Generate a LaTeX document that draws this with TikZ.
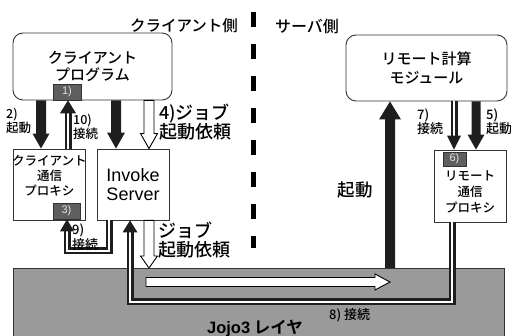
\documentclass[tikz,border=0pt]{standalone}
\usepackage{fontspec}
\setmainfont{Noto Sans CJK JP}[UprightFont=* Medium, BoldFont=* Bold]
\newfontfamily\lat{Liberation Sans}
\usetikzlibrary{calc}
\definecolor{jgray}{HTML}{9A9A9A}
\definecolor{dgray}{HTML}{5E5E5E}
\definecolor{ablk}{HTML}{1E1E1E}
\newcommand\fsz[2]{\fontsize{#1}{#2}\selectfont}
% vertical block arrow: style, from, to, shaft half width, head half width, head length
\newcommand\varrow[6]{\path[#1] let \p1=(#2), \p2=(#3), \n1={2*(\y2>\y1)-1} in
  ({\x2-#4},\y1) -- ({\x2-#4},{\y2-(\n1)*#6}) -- ({\x2-#5},{\y2-(\n1)*#6}) -- (\x2,\y2)
  -- ({\x2+#5},{\y2-(\n1)*#6}) -- ({\x2+#4},{\y2-(\n1)*#6}) -- ({\x2+#4},\y1) -- cycle;}
% filled head for double-line connectors: from (on shaft), tip, head half width, head length
\newcommand\dhead[4]{\fill[ablk] let \p1=(#1), \p2=(#2), \n1={2*(\y2>\y1)-1} in
  ({\x2-#3},{\y2-(\n1)*#4}) -- (\x2,\y2) -- ({\x2+#3},{\y2-(\n1)*#4}) -- cycle;}
\newcommand\dblline[1]{\draw[dblo] #1; \draw[dbli] #1;}
\begin{document}
\begin{tikzpicture}[x=1pt,y=-1pt,
  box/.style={draw=black!80, line width=0.9pt, fill=white, inner sep=0pt},
  rbox/.style={box, rounded corners=10pt},
  numbox/.style={draw=black!80, line width=0.6pt, fill=dgray, text=white!90!black, inner sep=0pt, font=\lat\fsz{11}{12}},
  txt/.style={inner sep=0pt, align=center},
  lbl/.style={inner sep=0pt, align=left, anchor=west},
  blkarrow/.style={fill=ablk},
  hollow/.style={fill=white, draw=black, line width=0.9pt, line join=miter},
  dblo/.style={draw=ablk, line width=7pt, line join=miter},
  dbli/.style={draw=white, line width=2.5pt, line join=miter},
  dashline/.style={draw=black, line width=5pt, dash pattern=on 15pt off 17pt},
]
\useasboundingbox (0,0) rectangle (511,336);

% Jojo3 layer
\node[draw=black!80, line width=0.8pt, fill=jgray, minimum width=491pt, minimum height=80pt, inner sep=0pt, anchor=north west] (jojo) at (13,268) {};
\node[txt, font=\fsz{16.5}{18}\bfseries] (jojot) at (255,328) {{\lat Jojo3} レイヤ};

% side headings and divider
\node[txt, font=\fsz{15.5}{17}] (cside) at (184,26) {クライアント側};
\node[txt, font=\fsz{16}{17}] (sside) at (307,26) {サーバ側};
\draw[dashline] (253,12) -- (253,248);

% boxes
\node[rbox, minimum width=159pt, minimum height=67pt, font=\fsz{15}{17}, align=center] (cprog) at (92.5,66.5) {クライアント\\プログラム};
\node[rbox, minimum width=161pt, minimum height=66pt, font=\fsz{15}{19}, align=center] (rmod) at (426.5,68) {リモート計算\\モジュール};
\node[box, minimum width=72pt, minimum height=71pt] (cproxy) at (49,184.5) {};
\node[txt, font=\fsz{12.5}{15}] (cproxyt) at (49.5,176) {クライアント\\通信\\プロキシ};
\node[box, minimum width=72pt, minimum height=71pt, font=\lat\fsz{18}{19.5}, align=center] (invoke) at (133,184.5) {Invoke\\Server};
\node[box, minimum width=72pt, minimum height=72pt] (rproxy) at (470,186) {};
\node[txt, font=\fsz{12.5}{16}] (rproxyt) at (470,192) {リモート\\通信\\プロキシ};

\node[numbox, minimum width=28pt, minimum height=16pt] (one) at (67,92) {1)};
\node[numbox, minimum width=27pt, minimum height=16pt] (three) at (66.5,211) {3)};
\node[numbox, minimum width=23pt, minimum height=14pt] (six) at (454.5,159) {6)};

% thick black arrows
\varrow{blkarrow}{41,0 |- cprog.south}{41,0 |- cproxy.north}{5pt}{8.5pt}{15pt}
\varrow{blkarrow}{116,0 |- cprog.south}{116,0 |- invoke.north}{5pt}{9pt}{16pt}
\varrow{blkarrow}{476,0 |- rmod.south}{476,0 |- rproxy.north}{4.5pt}{8.5pt}{15pt}
\varrow{blkarrow}{390,0 |- jojo.north}{390,0 |- rmod.south}{5pt}{11pt}{18pt}

% hollow arrows (job request)
\varrow{hollow}{149,0 |- cprog.south}{149,0 |- invoke.north}{5pt}{8.5pt}{15pt}
\varrow{hollow}{149,0 |- invoke.south}{149,0 |- jojo.north}{5pt}{8.5pt}{12pt}
\path[hollow] (146,277.5) -- (375,277.5) -- (375,274) -- (390,282) -- (375,290) -- (375,286.5) -- (146,286.5) -- cycle;

% double-line connectors
\dblline{(68,0 |- cproxy.north) -- ($(68,0 |- one.south)+(0,13)$)}
\dhead{68,0 |- cproxy.north}{68,0 |- one.south}{8pt}{13pt}
\dblline{(454,0 |- rmod.south) -- ($(454,0 |- rproxy.north)+(0,-14)$)}
\dhead{454,0 |- rmod.south}{454,0 |- rproxy.north}{7pt}{14pt}
\dblline{(109,0 |- invoke.south) -- (109,251) -- (67,251) -- ($(67,0 |- three.south)+(0,12)$)}
\dhead{67,251}{67,0 |- three.south}{7pt}{12pt}
\dblline{(452,0 |- rproxy.south) -- (452,302) -- (130,302) -- ($(130,0 |- invoke.south)+(0,12)$)}
\dhead{130,302}{130,0 |- invoke.south}{7.5pt}{12pt}

% labels
\node[lbl, font=\fsz{12.5}{13.5}] (l2) at (6,121) {2)\\起動};
\node[lbl, font=\fsz{12.5}{13.5}] (l10) at (73,127) {10)\\接続};
\node[lbl, font=\fsz{18}{16}] (l4) at (159,122) {4)ジョブ\\起動依頼};
\node[lbl, font=\fsz{18}{19}] (lj) at (158,240) {ジョブ\\起動依頼};
\node[lbl, font=\fsz{13}{14}] (l7) at (417,122) {7)\\接続};
\node[lbl, font=\fsz{13}{14}] (l5) at (486,122) {5)\\起動};
\node[lbl, font=\fsz{13}{13}] (l9) at (72,237) {9)\\接続};
\node[lbl, font=\fsz{13}{14}] (l8) at (329,315) {8) 接続};
\node[txt, font=\fsz{17.5}{18}] (lk) at (355,190) {起動};
\end{tikzpicture}
\end{document}
